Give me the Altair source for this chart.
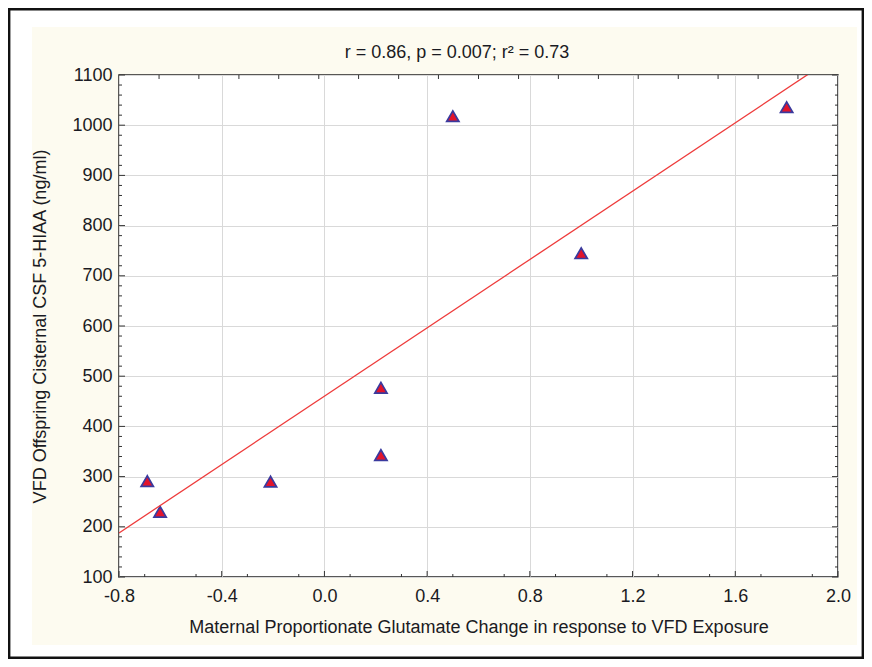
import altair as alt
import pandas as pd

# ---- data ----
x_vals = [-0.69, -0.64, -0.21, 0.22, 0.22, 0.50, 1.00, 1.80]
y_vals = [291, 230, 290, 343, 477, 1018, 745, 1036]

x_major = [-0.8, -0.4, 0.0, 0.4, 0.8, 1.2, 1.6, 2.0]
x_minor_bottom = [-0.7, -0.5, -0.3, -0.1, 0.1, 0.3, 0.5, 0.7, 0.9, 1.1, 1.3, 1.5, 1.7, 1.9]
x_minor_top = [-0.644, -0.489, -0.333, -0.178, -0.022, 0.133, 0.289, 0.444, 0.6,
               0.756, 0.911, 1.067, 1.222, 1.378, 1.533, 1.689, 1.844]
y_major = [100, 200, 300, 400, 500, 600, 700, 800, 900, 1000, 1100]
y_minor = [120, 140, 160, 180, 220, 240, 260, 280, 320, 340, 360, 380, 420, 440, 460, 480,
           520, 540, 560, 580, 620, 640, 660, 680, 720, 740, 760, 780, 820, 840, 860, 880,
           920, 940, 960, 980, 1020, 1040, 1060, 1080]

title_text = "r = 0.86, p = 0.007; r\u00b2 = 0.73"
x_title = "Maternal Proportionate Glutamate Change in response to VFD Exposure"
y_title = "VFD Offspring Cisternal CSF 5-HIAA (ng/ml)"

# ---- layout ----
W, H = 719, 502
PAD = {"left": 111, "top": 67, "right": 26, "bottom": 82}
FONT = "Liberation Sans"
FS = 18
TXT = "#1A1A22"
TICK = "#333333"

pts = pd.DataFrame({"x": x_vals, "y": y_vals})
one = pd.DataFrame({"k": [0]})

xs = alt.Scale(domain=[-0.8, 2.0], nice=False, zero=False)
ys = alt.Scale(domain=[100, 1100], nice=False, zero=False)

xaxis = alt.Axis(values=x_major, orient="bottom",
                 labelExpr="datum.value < 0 ? '-' + format(-datum.value, '.1f') : format(datum.value, '.1f')",
                 grid=True, ticks=False, domain=False,
                 labelPadding=10, titlePadding=13, labelFlush=False, labelOverlap=False)
yaxis = alt.Axis(values=y_major, orient="left", format="d", grid=True, ticks=False,
                 domain=False, labelPadding=7, titlePadding=22, labelOverlap=False)


def X(f):
    return alt.X(f"{f}:Q", scale=xs, axis=xaxis, title=x_title)


def Y(f):
    return alt.Y(f"{f}:Q", scale=ys, axis=yaxis, title=y_title)


points = alt.Chart(pts).mark_point(
    shape="triangle-up", filled=True, fill="#E2142C", stroke="#3A3A9E",
    strokeWidth=1.7, size=150, opacity=1
).encode(x=X("x"), y=Y("y"))

reg = alt.Chart(pts).transform_regression(
    "x", "y", extent=[-0.8, 2.0]
).mark_line(color="#EE3B3B", strokeWidth=1.3, clip=True).encode(x=X("x"), y=Y("y"))


def xticks(vals, y0, y1):
    return alt.Chart(pd.DataFrame({"v": vals})).mark_rule(color=TICK, strokeWidth=1).encode(
        x=X("v"), y=alt.value(y0), y2=alt.value(y1))


def yticks(vals, x0, x1):
    return alt.Chart(pd.DataFrame({"v": vals})).mark_rule(color=TICK, strokeWidth=1).encode(
        y=Y("v"), x=alt.value(x0), x2=alt.value(x1))


def rect(x0, x1, y0, y1, **kw):
    return alt.Chart(one).mark_rect(**kw).encode(
        x=alt.value(x0), x2=alt.value(x1), y=alt.value(y0), y2=alt.value(y1))


L, T = -PAD["left"], -PAD["top"]
R, B = W + PAD["right"], H + PAD["bottom"]
deco = [
    rect(L, -87, T, B, fill="white"),
    rect(L, R, T, -48, fill="white"),
    rect(738, R, T, B, fill="white"),
    rect(L, R, 570, B, fill="white"),
    rect(L + 1.2, R - 1.2, T + 1.2, B - 1.2, fillOpacity=0, stroke="#111111", strokeWidth=2.4),
]

ticks = [
    xticks(x_major, H, H - 6), xticks(x_minor_bottom, H, H - 3),
    xticks(x_minor_top, 0, 4),
    yticks(y_major, 0, 6), yticks(y_minor, 0, 3),
    yticks(y_major, W, W - 6), yticks(y_minor, W, W - 3),
]

title = alt.Chart(one).mark_text(
    text=title_text, font=FONT, fontSize=FS, color=TXT, align="center", baseline="middle"
).encode(x=alt.value(338), y=alt.value(-22))

chart = alt.layer(points, reg, *ticks, *deco, title).properties(
    width=W, height=H, autosize=alt.AutoSizeParams(type="none"), padding=PAD
).configure(background="#FDFBF0").configure_view(
    fill="white", stroke="#222222", strokeWidth=1.5
).configure_axis(
    labelFont=FONT, labelFontSize=FS, labelColor=TXT,
    titleFont=FONT, titleFontSize=FS, titleFontWeight="normal", titleColor=TXT,
    gridColor="#D9D9D9", gridWidth=1
)

chart.save("out.html", embed_options={"renderer": "svg", "actions": False})
